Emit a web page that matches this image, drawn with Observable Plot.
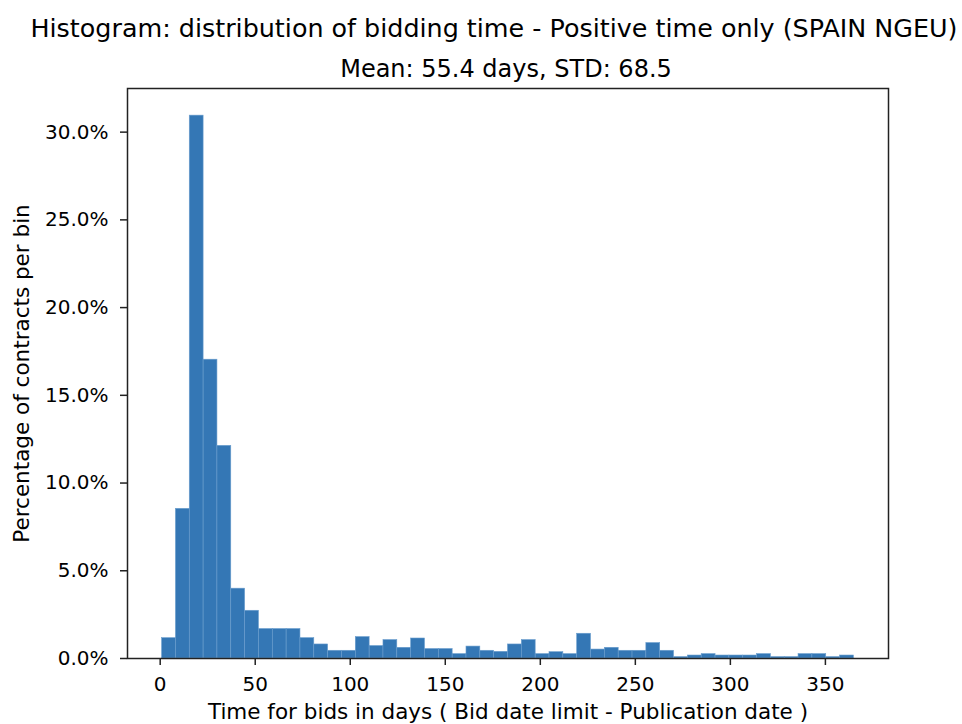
<!DOCTYPE html>
<html><head><meta charset="utf-8">
<script src="https://cdn.jsdelivr.net/npm/d3@7"></script>
<script src="https://cdn.jsdelivr.net/npm/@observablehq/plot@0.6"></script>
<style>
body{margin:0;background:#fff;font-family:"DejaVu Sans",sans-serif;color:#000;overflow:hidden;}
#wrap{position:relative;width:962px;height:724px;}
#titles{position:absolute;left:0;top:0;overflow:visible;z-index:2;}
#chart{position:absolute;left:0;top:80px;}
</style></head><body>
<div id="wrap">
<svg id="titles" width="962" height="80" font-family="DejaVu Sans, sans-serif" fill="#000">
  <text x="494" y="37" text-anchor="middle" font-size="25.4">Histogram: distribution of bidding time - Positive time only (SPAIN NGEU)</text>
  <text x="506" y="76.7" text-anchor="middle" font-size="24">Mean: 55.4 days, STD: 68.5</text>
</svg>
<div id="chart"></div>
</div>
<script>
const binStart = 1;
const binEnd = 365;
const binCount = 50;
const percentages = [
  1.16, 8.53, 30.94, 17.03, 12.12, 3.98, 2.72, 1.68, 1.68, 1.68,
  1.16, 0.80, 0.44, 0.44, 1.22, 0.71, 1.05, 0.61, 1.14, 0.54,
  0.54, 0.25, 0.68, 0.44, 0.38, 0.80, 1.05, 0.25, 0.36, 0.25,
  1.41, 0.51, 0.61, 0.44, 0.44, 0.88, 0.44, 0.08, 0.17, 0.25,
  0.17, 0.17, 0.17, 0.25, 0.08, 0.08, 0.25, 0.25, 0.08, 0.17
];
const xTicks = [0, 50, 100, 150, 200, 250, 300, 350];
const yTicks = [0, 5, 10, 15, 20, 25, 30];
const xLabel = "Time for bids in days ( Bid date limit - Publication date )";
const yLabel = "Percentage of contracts per bin";

const w = (binEnd - binStart) / binCount;
const bins = percentages.map((v, i) => ({x1: binStart + i * w, x2: binStart + (i + 1) * w, y: v}));
const span = binEnd - binStart;
const maxY = d3.max(percentages);

const chart = Plot.plot({
  width: 962,
  height: 644,
  marginTop: 8,
  marginBottom: 66,
  marginLeft: 127,
  marginRight: 74,
  style: {fontFamily: "DejaVu Sans, sans-serif", fontSize: "20px", color: "#000", background: "#fff", overflow: "visible"},
  x: {domain: [binStart - 0.05 * span, binEnd + 0.05 * span]},
  y: {domain: [0, maxY * 1.05]},
  marks: [
    Plot.rectY(bins, {x1: "x1", x2: "x2", y: "y", fill: "#3477b5", stroke: "#6a9dcd", strokeWidth: 0.6}),
    Plot.axisX({ticks: xTicks, tickSize: 7, tickPadding: 11, strokeWidth: 1.5, fontSize: 20, label: null, stroke: "#222"}),
    Plot.axisY({ticks: yTicks, tickSize: 7, tickPadding: 12, strokeWidth: 1.5, fontSize: 20, label: null, stroke: "#222",
                tickFormat: d => d.toFixed(1) + "%"}),
    Plot.text([xLabel], {frameAnchor: "bottom", dy: 54, fontSize: 21.5, textAnchor: "middle", lineAnchor: "middle", fill: "#000"}),
    Plot.text([yLabel], {frameAnchor: "left", dx: -105.4, rotate: -90, fontSize: 21.5, textAnchor: "middle", lineAnchor: "middle", fill: "#000"}),
    Plot.frame({stroke: "#222", strokeWidth: 1.5})
  ]
});
document.getElementById("chart").appendChild(chart);
</script>
</body></html>
